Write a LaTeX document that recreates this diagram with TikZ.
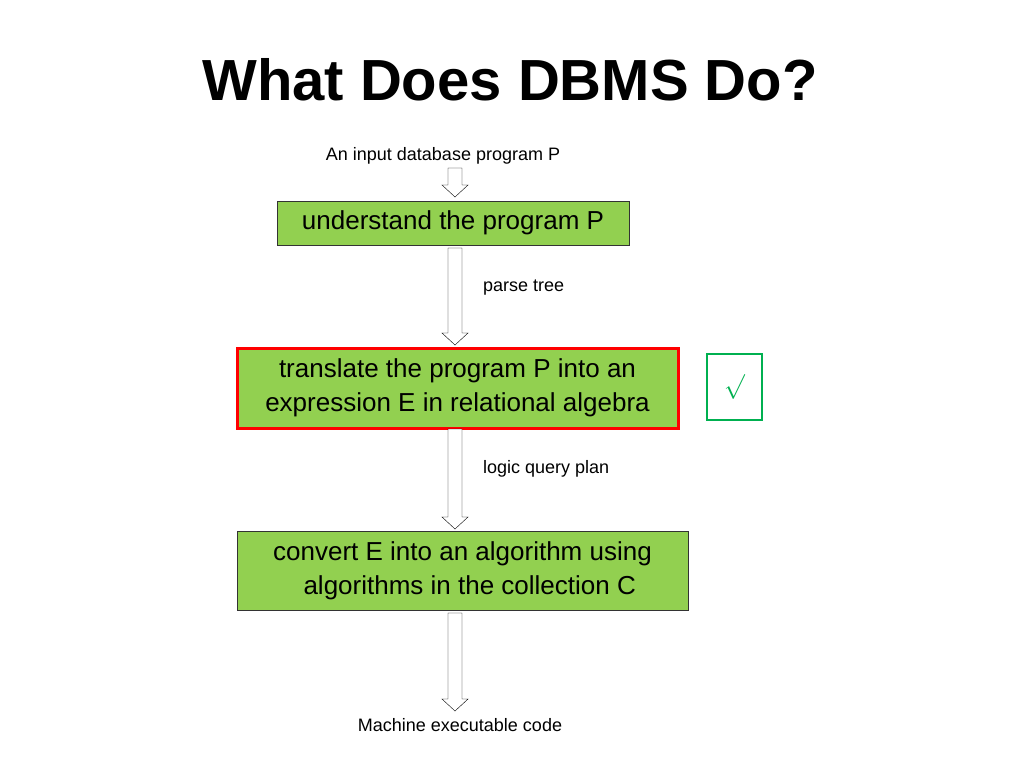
\documentclass[tikz,border=0pt]{standalone}
\usepackage{fontspec}
\setmainfont{Liberation Sans}
\usetikzlibrary{calc}
\definecolor{boxgreen}{RGB}{146,208,80}
\definecolor{checkgreen}{RGB}{0,176,80}
\newcommand{\blockarrow}[2]{%
  \draw [black, fill=white] let \p1=(#1), \p2=(#2) in
    (\x1-7,\y1) -- (\x1+7,\y1) -- (\x1+7,\y2+12) -- (\x1+13,\y2+12) --
    (\x1,\y2) -- (\x1-13,\y2+12) -- (\x1-7,\y2+12) -- cycle;}
\begin{document}
\begin{tikzpicture}[x=1pt,y=-1pt]
				\tikzset{stepbox/.style={draw=black!80, fill=boxgreen, inner sep=0pt, align=center, font=\fontsize{26}{34}\selectfont},
				         label/.style={inner sep=0pt, font=\fontsize{18}{22}\selectfont}}
				\useasboundingbox (0,0) rectangle (1024,768);
				\node [font=\fontsize{58}{64}\selectfont\bfseries] (title) at (510,80) {What Does DBMS Do?};
				\node [label] (input) at (443,156) {An input database program P};
				\node [stepbox, minimum width=352, minimum height=44] (understand) at (453,223) {understand the program P};
				\node [stepbox, draw=red, line width=3pt, minimum width=441, minimum height=80] (translate) at (457.5,388) {translate the program P into an\\expression E in relational algebra};
				\node [stepbox, minimum width=451, minimum height=79] (convert) at (462.5,570.5) {convert E into an algorithm using\\\ \ algorithms in the collection C};
				\node [draw=checkgreen, line width=2pt, minimum width=55, minimum height=66, text=checkgreen, font=\fontsize{44}{44}\selectfont] (check) at (734.5,387) {$\surd$};
				\node [label, anchor=west] (parse) at (483,288) {parse tree};
				\node [label, anchor=west] (logic) at (483,469) {logic query plan};
				\node [label] (code) at (460,725) {Machine executable code};
				\coordinate (a1s) at (455,168); \coordinate (a1e) at (455,197);
				\coordinate (a2s) at (455,248); \coordinate (a2e) at (455,345);
				\coordinate (a3s) at (455,429); \coordinate (a3e) at (455,529);
				\coordinate (a4s) at (455,613); \coordinate (a4e) at (455,711);
				\blockarrow{a1s}{a1e}
				\blockarrow{a2s}{a2e}
				\blockarrow{a3s}{a3e}
				\blockarrow{a4s}{a4e}
\end{tikzpicture}
\end{document}
